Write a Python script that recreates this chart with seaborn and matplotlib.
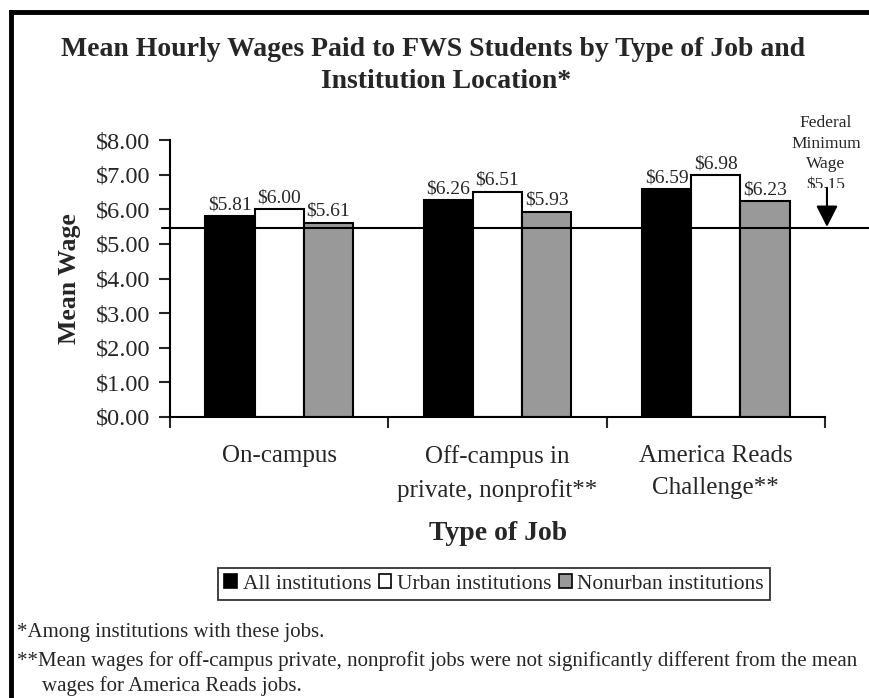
import matplotlib
matplotlib.use("Agg")
import matplotlib.pyplot as plt
import matplotlib.transforms as mtransforms
from matplotlib.lines import Line2D
from matplotlib.patches import Patch, Rectangle, FancyArrowPatch
from matplotlib.ticker import FuncFormatter, FixedLocator
import pandas as pd
import seaborn as sns

# data
job_types = ["On-campus", "Off-campus in\nprivate, nonprofit**", "America Reads\nChallenge**"]
groups = ["All institutions", "Urban institutions", "Nonurban institutions"]
all_wage = [5.81, 6.26, 6.59]
urban_wage = [6.00, 6.51, 6.98]
nonurban_wage = [5.61, 5.93, 6.23]
bar_colors = ["black", "white", "#999999"]
min_wage_label = "$5.15"
min_wage_line = 5.47  # where the reference draws the line
y_ticks = [0, 1, 2, 3, 4, 5, 6, 7, 8]

df = pd.DataFrame({
    "job": job_types * 3,
    "group": [g for g in groups for _ in job_types],
    "wage": all_wage + urban_wage + nonurban_wage,
})

sns.set_style("white")
plt.rcParams["font.family"] = ["Liberation Serif", "DejaVu Serif"]

fig = plt.figure(figsize=(8.7, 6.98), dpi=100)
ax = fig.add_axes([170 / 870, 1 - 417 / 698, 655 / 870, 277 / 698])

sns.barplot(data=df, x="job", y="wage", hue="group", palette=bar_colors,
            edgecolor="black", linewidth=1.5, width=0.675, ax=ax, legend=False)

for cont in ax.containers:
    ax.bar_label(cont, labels=[f"${v:.2f}" for v in cont.datavalues],
                 fontsize=14, padding=2)

ax.set_ylim(0, 8)
ax.set_xlim(-0.5, 2.5)
ax.yaxis.set_major_locator(FixedLocator(y_ticks))
ax.yaxis.set_major_formatter(FuncFormatter(lambda v, p: f"${v:.2f}"))
ax.tick_params(axis="y", direction="out", length=8, width=1.5, labelsize=17.5, pad=6, left=True)

# category names sit between the boundary ticks
ax.set_xticks([-0.5, 0.5, 1.5, 2.5])
ax.set_xticklabels([])
ax.tick_params(axis="x", direction="out", length=8, width=1.5, bottom=True)
for i, name in enumerate(job_types):
    ax.text(i, -0.82, name, ha="center", va="top", fontsize=18,
            transform=ax.transData, linespacing=1.58)

for side in ["top", "right"]:
    ax.spines[side].set_visible(False)
for side in ["left", "bottom"]:
    ax.spines[side].set_linewidth(1.5)
    ax.spines[side].set_color("black")

ax.set_xlabel("")
ax.set_ylabel("Mean Wage", fontsize=18.5, fontweight="bold", labelpad=11)
fig.text(498 / 870, 1 - 533 / 698, "Type of Job", ha="center", va="center",
         fontsize=20, fontweight="bold")

# federal minimum wage line and arrow
ax.axhline(min_wage_line, xmin=-0.012, xmax=1.07, color="black", lw=1.5, clip_on=False)
fig.text(826 / 870, 1 - 115 / 698, "Federal\nMinimum\nWage\n" + min_wage_label,
         ha="center", va="top", fontsize=12.5, linespacing=1.38)
# the reference cuts off the lower part of the "$5.15" label
fig.add_artist(Rectangle((800 / 870, 1 - 200 / 698), 55 / 870, 12 / 698,
                         transform=fig.transFigure, facecolor="white",
                         edgecolor="none", zorder=4))
trans = mtransforms.blended_transform_factory(ax.transAxes, ax.transData)
fig.add_artist(FancyArrowPatch((1.003, 6.62), (1.003, 5.49), transform=trans,
                               arrowstyle="-|>,head_length=0.65,head_width=0.33",
                               mutation_scale=20, color="black", lw=1.5,
                               shrinkA=0, shrinkB=0, zorder=5))

fig.text(433 / 870, 1 - 49 / 698, "Mean Hourly Wages Paid to FWS Students by Type of Job and",
         ha="center", va="center", fontsize=20, fontweight="bold")
fig.text(446 / 870, 1 - 82 / 698, "Institution Location*",
         ha="center", va="center", fontsize=20, fontweight="bold")

handles = [Patch(facecolor=c, edgecolor="black", linewidth=1.2) for c in bar_colors]
leg = fig.legend(handles, groups, loc="center", bbox_to_anchor=(494 / 870, 1 - 584 / 698),
                 ncol=3, fontsize=15.5, frameon=True, fancybox=False, handlelength=0.6,
                 handleheight=0.6, handletextpad=0.25, columnspacing=0.35,
                 borderpad=0.3, borderaxespad=0)
leg.get_frame().set_edgecolor("black")
leg.get_frame().set_linewidth(1.3)

fig.text(17 / 870, 1 - 633 / 698, "*Among institutions with these jobs.",
         ha="left", va="center", fontsize=15)
fig.text(17 / 870, 1 - 661 / 698,
         "**Mean wages for off-campus private, nonprofit jobs were not significantly different from the mean",
         ha="left", va="center", fontsize=15)
fig.text(42 / 870, 1 - 686 / 698, "wages for America Reads jobs.",
         ha="left", va="center", fontsize=15)

# outer frame (left and top edges only)
fig.add_artist(Line2D([11 / 870, 11 / 870], [0, 1 - 12 / 698], color="black", lw=3.5,
                      transform=fig.transFigure, solid_capstyle="projecting"))
fig.add_artist(Line2D([11 / 870, 1], [1 - 12 / 698, 1 - 12 / 698], color="black", lw=3.5,
                      transform=fig.transFigure, solid_capstyle="projecting"))

fig.savefig("out.png", dpi=100)
